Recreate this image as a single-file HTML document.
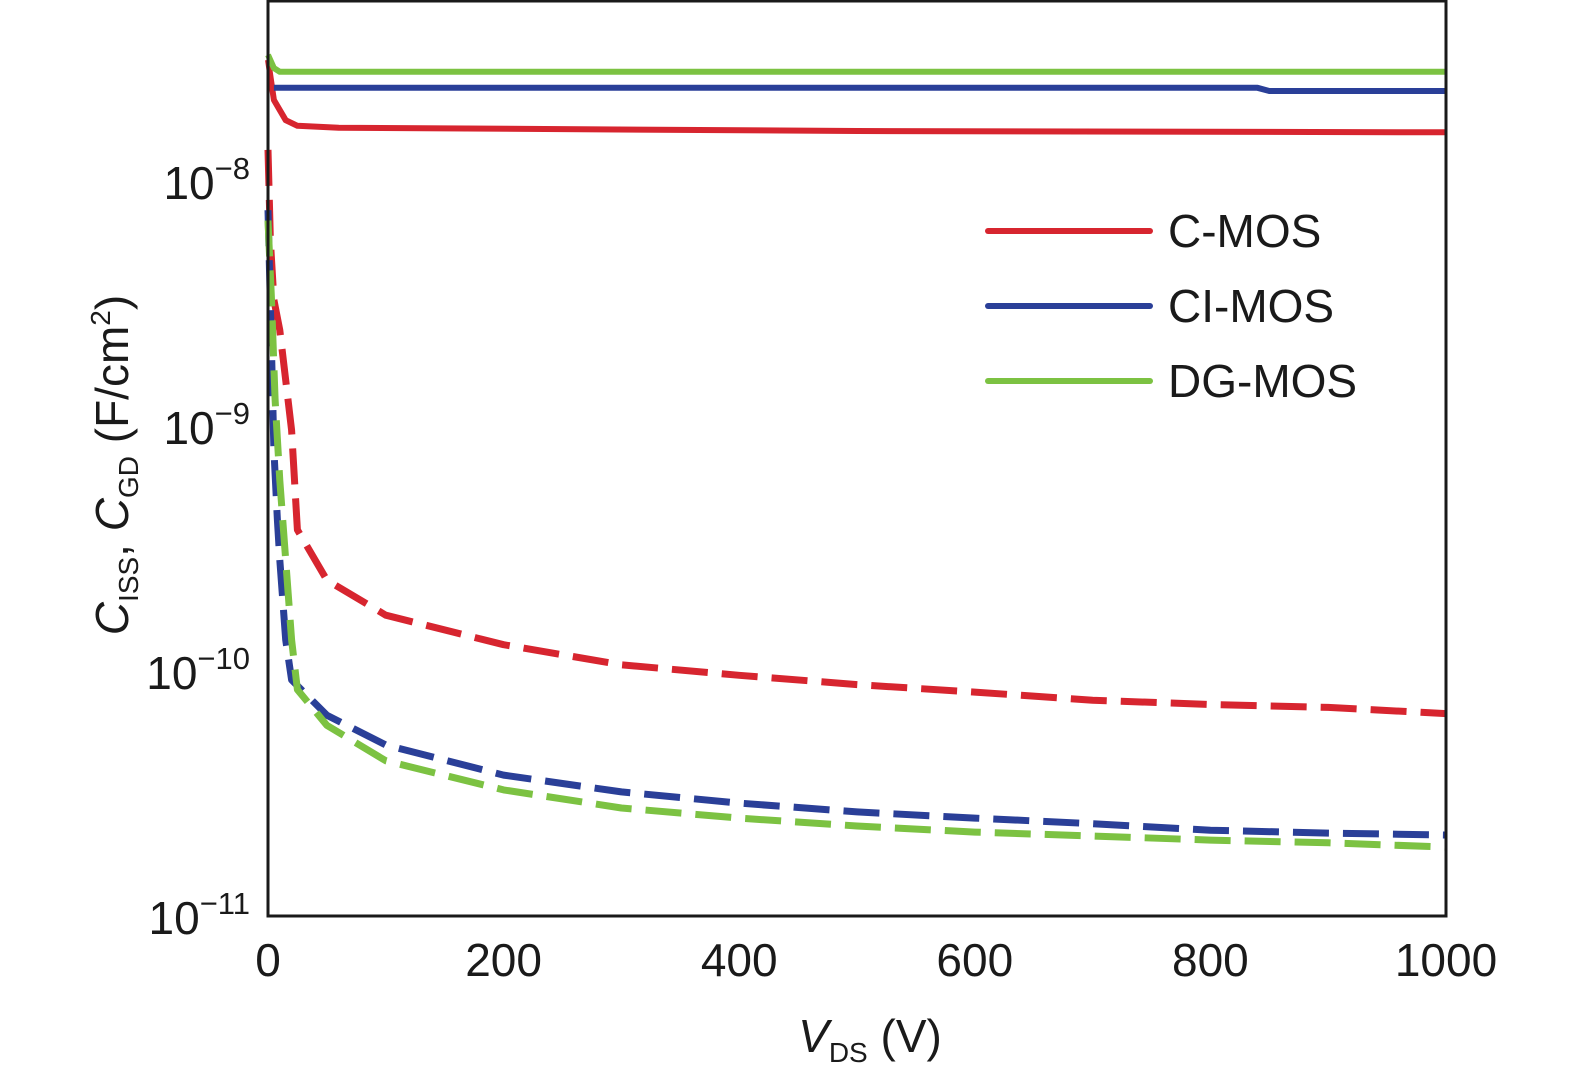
<!DOCTYPE html>
<html><head><meta charset="utf-8">
<style>
html,body{margin:0;padding:0;background:#fff;}
svg{display:block;font-family:"Liberation Sans",sans-serif;}
</style></head>
<body>
<svg id="chart" width="1575" height="1081" viewBox="0 0 1575 1081" xmlns="http://www.w3.org/2000/svg">
  <g id="series"></g>
  <rect x="268" y="1" width="1178" height="915" fill="none" stroke="#1a1a1a" stroke-width="3"/>
  <g id="xticks" font-size="46" fill="#1a1a1a" text-anchor="middle"></g>
  <g id="yticks" font-size="46" fill="#1a1a1a" text-anchor="end"></g>
  <text x="870" y="1052" font-size="46" fill="#1a1a1a" text-anchor="middle"><tspan font-style="italic">V</tspan><tspan font-size="28" dy="10">DS</tspan><tspan dy="-10"> (V)</tspan></text>
  <text transform="translate(128,465) rotate(-90)" font-size="46" fill="#1a1a1a" text-anchor="middle"><tspan font-style="italic">C</tspan><tspan font-size="28" dy="10">ISS</tspan><tspan dy="-10">, </tspan><tspan font-style="italic">C</tspan><tspan font-size="28" dy="10">GD</tspan><tspan dy="-10"> (F/cm</tspan><tspan font-size="28" dy="-18">2</tspan><tspan dy="18">)</tspan></text>
  <g>
    <line x1="988" y1="231" x2="1150" y2="231" stroke="#d7252f" stroke-width="6" stroke-linecap="round"/>
    <text x="1168" y="247" font-size="46" fill="#1a1a1a">C-MOS</text>
    <line x1="988" y1="306" x2="1150" y2="306" stroke="#2a3f98" stroke-width="6" stroke-linecap="round"/>
    <text x="1168" y="322" font-size="46" fill="#1a1a1a">CI-MOS</text>
    <line x1="988" y1="381" x2="1150" y2="381" stroke="#7cc242" stroke-width="6" stroke-linecap="round"/>
    <text x="1168" y="397" font-size="46" fill="#1a1a1a">DG-MOS</text>
  </g>
</svg>
<script>
const xTicks = [0, 200, 400, 600, 800, 1000];
const yTickExp = [-8, -9, -10, -11];

const cmosCissV = [0, 5, 15, 25, 60, 500, 1000];
const cmosCiss  = [3.12e-8, 2.14e-8, 1.77e-8, 1.68e-8, 1.65e-8, 1.60e-8, 1.58e-8];
const ciCissV = [5, 840, 850, 1000];
const ciCiss  = [2.4e-8, 2.4e-8, 2.33e-8, 2.33e-8];
const dgCissV = [0, 5, 10, 1000];
const dgCiss  = [3.27e-8, 2.89e-8, 2.79e-8, 2.79e-8];

const cmosCgdV = [0, 2, 5, 10, 15, 20, 25, 50, 100, 200, 300, 400, 500, 600, 700, 800, 900, 1000];
const cmosCgd  = [1.34e-8, 5.7e-9, 3.27e-9, 2.46e-9, 1.54e-9, 9.6e-10, 3.77e-10, 2.35e-10, 1.69e-10, 1.28e-10, 1.06e-10, 9.6e-11, 8.8e-11, 8.2e-11, 7.6e-11, 7.3e-11, 7.1e-11, 6.7e-11];
const ciCgdV = [0, 3, 5, 8, 10, 15, 20, 50, 100, 200, 300, 400, 500, 600, 700, 800, 900, 1000];
const ciCgd  = [7.6e-9, 2.04e-9, 8.0e-10, 4.13e-10, 2.84e-10, 1.34e-10, 9.2e-11, 6.6e-11, 4.99e-11, 3.76e-11, 3.21e-11, 2.89e-11, 2.66e-11, 2.51e-11, 2.38e-11, 2.24e-11, 2.18e-11, 2.14e-11];
const dgCgdV = [0, 3, 6, 10, 15, 20, 25, 50, 100, 200, 300, 400, 500, 600, 700, 800, 900, 1000];
const dgCgd  = [6.9e-9, 3.27e-9, 1.28e-9, 6.0e-10, 2.84e-10, 1.34e-10, 8.4e-11, 6.0e-11, 4.3e-11, 3.27e-11, 2.76e-11, 2.51e-11, 2.33e-11, 2.2e-11, 2.12e-11, 2.04e-11, 1.99e-11, 1.91e-11];

const NS = "http://www.w3.org/2000/svg";
function xs(v){ return 268 + v * 1.178; }
function ys(c){ return 916 - 245 * (Math.log10(c) + 11); }

const seriesG = document.getElementById('series');
function drawLine(xv, yv, color, dashed, name){
  const p = document.createElementNS(NS, 'path');
  let d = '';
  for (let i = 0; i < xv.length; i++) d += (i ? 'L' : 'M') + xs(xv[i]).toFixed(1) + ',' + ys(yv[i]).toFixed(1);
  p.setAttribute('d', d);
  p.setAttribute('fill', 'none');
  p.setAttribute('stroke', color);
  p.setAttribute('stroke-width', dashed ? 7 : 6);
  p.setAttribute('stroke-linejoin', 'round');
  if (dashed) p.setAttribute('stroke-dasharray', '36 14');
  
  
  seriesG.appendChild(p);
}
drawLine(cmosCgdV, cmosCgd, '#d7252f', true, 'c-mos-cgd-line');
drawLine(ciCgdV, ciCgd, '#2a3f98', true, 'ci-mos-cgd-line');
drawLine(dgCgdV, dgCgd, '#7cc242', true, 'dg-mos-cgd-line');
drawLine(cmosCissV, cmosCiss, '#d7252f', false, 'c-mos-ciss-line');
drawLine(ciCissV, ciCiss, '#2a3f98', false, 'ci-mos-ciss-line');
drawLine(dgCissV, dgCiss, '#7cc242', false, 'dg-mos-ciss-line');

const xg = document.getElementById('xticks');
xTicks.forEach(v => {
  const t = document.createElementNS(NS, 'text');
  t.setAttribute('x', xs(v));
  t.setAttribute('y', 976);
  t.textContent = v;
  
  
  xg.appendChild(t);
});
const yg = document.getElementById('yticks');
yTickExp.forEach(e => {
  const t = document.createElementNS(NS, 'text');
  t.setAttribute('x', 250);
  t.setAttribute('y', ys(Math.pow(10, e)) + 18);
  const b = document.createElementNS(NS, 'tspan');
  b.textContent = '10';
  const s = document.createElementNS(NS, 'tspan');
  s.setAttribute('font-size', '31');
  s.setAttribute('dy', '-20');
  s.textContent = '\u2212' + (-e);
  t.appendChild(b); t.appendChild(s);
  
  
  yg.appendChild(t);
});
</script>
</body></html>
